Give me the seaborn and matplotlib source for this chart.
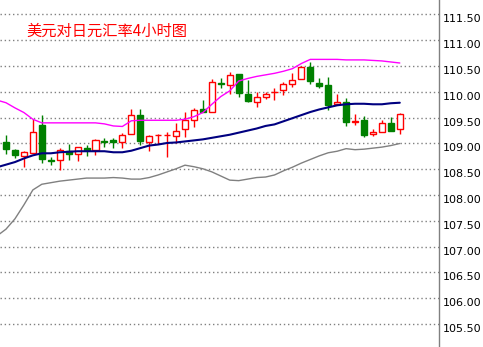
import numpy as np
import pandas as pd
import matplotlib
matplotlib.use("Agg")
import matplotlib.pyplot as plt
import seaborn as sns

# ---------------- data ----------------
title = "美元对日元汇率4小时图"
ytick_values = [105.5, 106.0, 106.5, 107.0, 107.5, 108.0, 108.5,
                109.0, 109.5, 110.0, 110.5, 111.0, 111.5]
ytick_labels = [f"{v:.2f}" for v in ytick_values]

opens = [109.03, 108.88, 108.76, 108.81, 109.35, 108.68, 108.68, 108.86, 108.79, 108.92,
         108.87, 109.05, 109.06, 109.03, 109.19, 109.56, 109.03, 109.16, 109.16, 109.15,
         109.29, 109.46, 109.66, 109.61, 110.18, 110.14, 110.35, 109.95, 109.80, 109.90,
         109.99, 110.04, 110.16, 110.25, 110.49, 110.18, 110.14, 109.76, 109.81, 109.42,
         109.45, 109.19, 109.23, 109.40, 109.28]
closes = [108.90, 108.77, 108.83, 109.23, 108.70, 108.66, 108.87, 108.80, 108.94, 108.87,
          109.07, 109.03, 109.03, 109.16, 109.56, 109.05, 109.14, 109.17, 109.17, 109.25,
          109.45, 109.65, 109.61, 110.20, 110.15, 110.33, 109.98, 109.82, 109.91, 109.96,
          110.00, 110.16, 110.24, 110.49, 110.21, 110.11, 109.74, 109.80, 109.41, 109.44,
          109.16, 109.23, 109.40, 109.24, 109.58]
highs = [109.16, 108.90, 108.85, 109.47, 109.56, 108.74, 108.92, 108.99, 108.94, 108.98,
         109.09, 109.11, 109.11, 109.20, 109.66, 109.66, 109.16, 109.19, 109.23, 109.40,
         109.61, 109.68, 109.85, 110.25, 110.27, 110.39, 110.35, 110.24, 110.00, 110.00,
         110.08, 110.20, 110.36, 110.51, 110.58, 110.26, 110.29, 109.96, 109.89, 109.58,
         109.53, 109.28, 109.45, 109.51, 109.60]
lows = [108.80, 108.71, 108.54, 108.81, 108.63, 108.59, 108.49, 108.68, 108.66, 108.75,
        108.77, 108.94, 108.92, 108.92, 109.19, 108.98, 108.85, 108.99, 108.74, 109.01,
        109.13, 109.32, 109.61, 109.61, 110.08, 109.95, 109.91, 109.80, 109.70, 109.87,
        109.85, 109.94, 110.10, 110.25, 110.16, 110.08, 109.65, 109.74, 109.34, 109.35,
        109.12, 109.15, 109.22, 109.24, 109.19]

# Bollinger bands, starting one bar before the first visible candle
band_upper = [109.84, 109.79, 109.69, 109.60, 109.47, 109.40, 109.40, 109.40, 109.40, 109.40,
              109.40, 109.40, 109.38, 109.34, 109.33, 109.44, 109.45, 109.45, 109.45, 109.45,
              109.45, 109.47, 109.52, 109.60, 109.76, 109.91, 110.02, 110.21, 110.26, 110.30,
              110.33, 110.36, 110.40, 110.45, 110.55, 110.63, 110.63, 110.63, 110.63, 110.62,
              110.62, 110.62, 110.61, 110.60, 110.58, 110.56]
band_middle = [108.54, 108.59, 108.64, 108.71, 108.77, 108.81, 108.81, 108.83, 108.84, 108.85,
               108.85, 108.85, 108.85, 108.83, 108.83, 108.86, 108.91, 108.96, 108.98, 109.01,
               109.02, 109.04, 109.06, 109.08, 109.11, 109.14, 109.17, 109.21, 109.25, 109.29,
               109.34, 109.37, 109.43, 109.49, 109.55, 109.61, 109.66, 109.70, 109.74, 109.76,
               109.77, 109.77, 109.76, 109.76, 109.78, 109.79]
band_lower = [107.21, 107.34, 107.54, 107.81, 108.10, 108.21, 108.24, 108.27, 108.29, 108.31,
              108.33, 108.33, 108.33, 108.34, 108.33, 108.31, 108.31, 108.34, 108.39, 108.45,
              108.51, 108.58, 108.55, 108.51, 108.45, 108.37, 108.29, 108.28, 108.31, 108.34,
              108.35, 108.39, 108.47, 108.54, 108.62, 108.69, 108.76, 108.82, 108.85, 108.90,
              108.88, 108.89, 108.91, 108.93, 108.96, 109.00]

# ---------------- figure ----------------
sns.set_theme(style="white")
plt.rcParams['font.family'] = ['DejaVu Sans']

W, H = 483, 347
fig = plt.figure(figsize=(W / 100, H / 100), dpi=100)
ax = fig.add_axes([0, 0, 439 / W, 1])
ax.set_facecolor("white")

candles = pd.DataFrame({"idx": np.arange(len(opens)), "open": opens, "close": closes,
                        "high": highs, "low": lows})
bands = pd.DataFrame({"idx": np.arange(-1, len(band_upper) - 1), "upper": band_upper,
                      "middle": band_middle, "lower": band_lower})

RED = "#FF0000"
GREEN = "#008000"
up = candles["close"] >= candles["open"]
colors = np.where(up, RED, GREEN)

# wicks
ax.vlines(candles["idx"], candles["low"], candles["high"], colors=colors,
          linewidth=1.0, zorder=2)
# bodies
bottoms = np.minimum(candles["open"], candles["close"])
heights = np.maximum(np.abs(candles["close"] - candles["open"]), 0.012)
ax.bar(candles["idx"], heights, bottom=bottoms, width=0.68,
       facecolor=np.where(up, "white", GREEN), edgecolor=colors,
       linewidth=1.0, zorder=3)

# bands
sns.lineplot(data=bands, x="idx", y="upper", color="#FF00FF", linewidth=1.0,
             ax=ax, zorder=4)
sns.lineplot(data=bands, x="idx", y="middle", color="#000080", linewidth=1.5,
             ax=ax, zorder=4)
sns.lineplot(data=bands, x="idx", y="lower", color="#808080", linewidth=1.0,
             ax=ax, zorder=4)

# axes setup
ax.set_xlim(-0.67, 48.38)
ax.set_ylim(105.056, 111.781)
ax.set_xlabel("")
ax.set_ylabel("")
ax.set_xticks([])
ax.yaxis.tick_right()
ax.set_yticks(ytick_values)
ax.set_yticklabels(ytick_labels)
ax.tick_params(axis="y", length=0, pad=2.5, labelsize=8, labelcolor="#000000")
for lbl in ax.get_yticklabels():
    lbl.set_va("top")
ax.yaxis.grid(True, color="#808080", linestyle=(0, (1, 2)), linewidth=1.0, zorder=0)
ax.xaxis.grid(False)
ax.set_axisbelow(True)
for side in ["left", "top", "bottom"]:
    ax.spines[side].set_visible(False)
ax.spines["right"].set_color("#808080")
ax.spines["right"].set_linewidth(1.0)

fig.text(26 / W, 1 - 31.5 / H, title, color=RED, fontsize=11,
         family=["Noto Sans CJK SC", "DejaVu Sans"], ha="left", va="center")

fig.savefig("out.png", dpi=100, facecolor="white")
